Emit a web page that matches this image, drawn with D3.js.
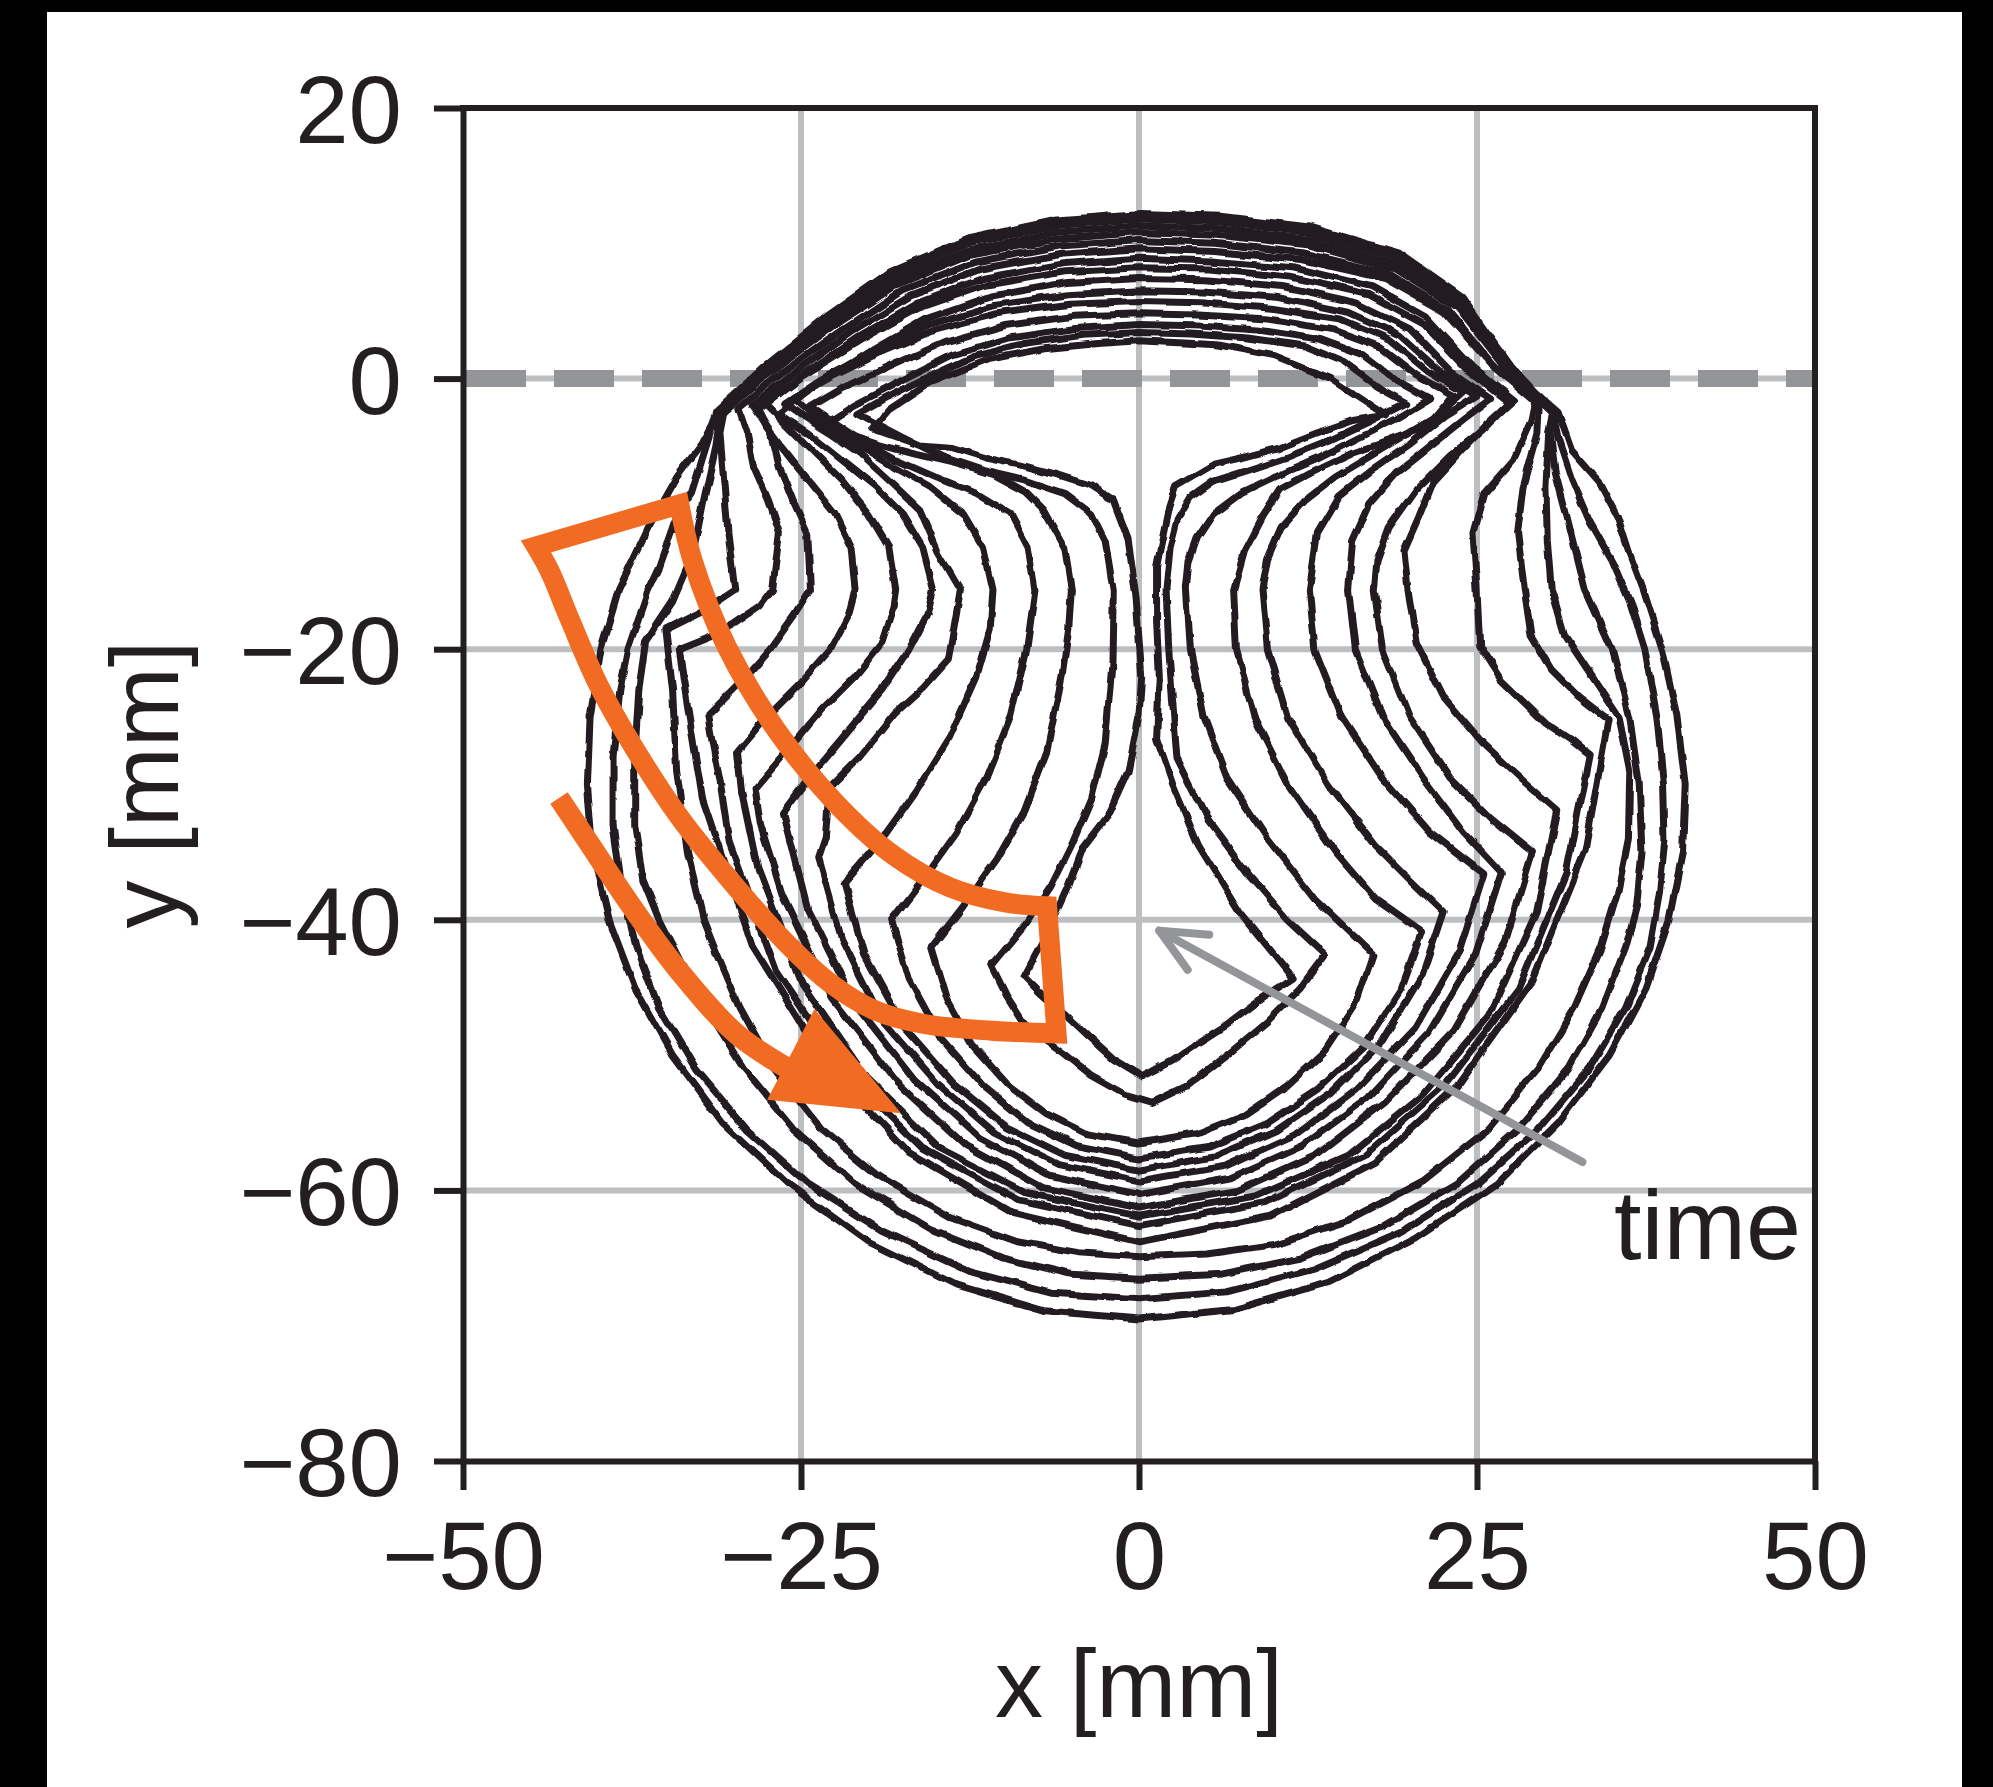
<!DOCTYPE html>
<html>
<head>
<meta charset="utf-8">
<script src="https://cdn.jsdelivr.net/npm/d3@7"></script>
<style>
  html, body { margin: 0; padding: 0; background: #ffffff; }
  svg { display: block; }
</style>
</head>
<body>
<svg id="chart" width="1993" height="1787">
  <defs>
    <!-- slight hand-traced roughness for the digitised fronts -->
    <filter id="traced" x="-5%" y="-5%" width="110%" height="110%">
      <feTurbulence type="fractalNoise" baseFrequency="0.04" numOctaves="2" seed="7" result="n"/>
      <feDisplacementMap in="SourceGraphic" in2="n" scale="6" xChannelSelector="R" yChannelSelector="G"/>
    </filter>
  </defs>
</svg>
<script>
// ---- axis settings -------------------------------------------------------
const xTicks = [-50, -25, 0, 25, 50];
const yTicks = [20, 0, -20, -40, -60, -80];
const xGrid = [-25, 0, 25];
const yGrid = [0, -20, -40, -60];
const xDomain = [-50, 50];
const yDomain = [-80, 20];
const xTitle = "x [mm]";
const yTitle = "y [mm]";
const timeLabel = "time";

// ---- front contours, x/y in mm, innermost first ---------------------------
const front01 = [[-19.7,-3.7],[-18.5,-2.3],[-15.5,-0.3],[-11.2,1.4],[-7,2.2],[-3,2.6],[0,2.8],[5.8,2.5],[10,1.7],[14.2,0],[18.3,-2.7],
  [15.8,-3.1],[13.2,-4.0],[10.4,-5.1],[7.8,-5.8],[5.6,-6.3],[2.7,-8.0],[2.2,-9.5],[1.8,-11.4],[1.3,-13.9],[1.3,-18],[1.5,-22],[1.3,-26.6],
  [2.5,-30],[4.4,-34.5],[7.5,-39.5],[11.4,-44.3],
  [8.8,-46],[6.4,-47.8],[4.2,-49.2],[2.5,-50.4],[0.2,-51.6],
  [-1.8,-50.4],[-3.8,-48.6],[-5.5,-47],[-7.2,-45.5],[-8.5,-44.2],
  [-6.8,-41],[-5.2,-37.5],[-4.1,-34.6],[-2.2,-32.1],[-0.8,-29],[0,-25],[0.2,-22],
  [-0.2,-16.4],[-0.8,-11.9],[-1.9,-9.0],[-3.6,-7.9],[-6.1,-7.1],[-8.7,-6.4],[-11.2,-5.9],[-13.8,-5.1],[-16.3,-4.9]];

const front02 = [[-20.8,-2.6],[-18.7,-1.4],[-15.4,0.2],[-12.3,1.6],[-8.5,2.6],[-4.2,3.2],[0,3.4],[3.8,3.3],[8.1,3.0],[12.3,2.4],[15.2,1.2],[17.6,-0.6],[19.8,-1.8],
  [17,-3.2],[14,-4.6],[11,-5.8],[8,-6.8],[5.5,-7.6],[3.8,-8.8],[2.8,-10.5],[2.3,-12.5],[2,-15.5],
  [2.2,-20],[2.5,-24],[2.8,-28],[5,-32.5],[8,-36.5],[11,-40],[13.8,-42.6],
  [12,-45],[9.5,-47.5],[6.5,-50],[3.5,-52.3],[1,-53.5],
  [-1,-52.9],[-3.5,-51.5],[-5.5,-49.9],[-8.4,-47.8],[-9.8,-45.6],[-10.9,-43.4],
  [-8.5,-40.5],[-6.5,-37.5],[-5,-34.5],[-3.5,-31],[-2.5,-27],[-2,-21],[-1.9,-15.6],
  [-2.5,-12],[-3.5,-10],[-5.5,-8.5],[-8.5,-7.5],[-11.5,-6.8],[-14.5,-5.8],[-17.5,-4.3]];

const front03 = [[-23.4,-3.5],[-21.1,-2.0],[-17.3,0.0],[-13.8,1.75],[-9.6,3.0],[-4.7,3.7],[0,4.0],[4.1,3.9],[8.8,3.6],[13.3,2.9],[16.6,1.7],[19.1,-0.2],[21.5,-1.5],
  [19,-3],[16,-4.5],[13,-6],[10,-7.3],[7.5,-8.5],[5.5,-10],[4.3,-11.8],[3.7,-13.5],[3.5,-15.5],
  [3.8,-20],[4.8,-25],[6.5,-29.5],[9.5,-34],[13,-38.5],[17.3,-42.6],
  [16.1,-46.1],[13.8,-49.6],[10.9,-52.3],[7.8,-54.4],[4.3,-55.8],[0,-56.5],
  [-3.9,-55.8],[-6.9,-54.3],[-9.7,-52.2],[-12.3,-49.3],[-14.3,-45.7],[-15.4,-42.1],
  [-13,-39],[-10.5,-35.5],[-8.5,-32],[-6.8,-27.5],[-5.7,-22],[-5.2,-18.5],[-5,-15.6],
  [-5.5,-12.5],[-7,-9.8],[-8.4,-8.4],[-10.8,-7.1],[-13.5,-6.3],[-16.5,-5.6],[-19.5,-4.8]];

const front04 = [[-24.3,-2.1],[-21.9,-0.7],[-18,1.1],[-14.3,2.7],[-10,3.9],[-4.9,4.6],[0,4.8],[4.4,4.7],[9.5,4.4],[14.4,3.6],[17.9,2.3],[20.6,0.2],[23.2,-1.2],
  [21.2,-3.6],[18.5,-4.6],[15.8,-5.5],[12.6,-7.0],[10.4,-8.2],[9.1,-10.2],[7.8,-12.7],[7,-15.6],
  [7.2,-20],[8.5,-25],[11,-30],[14.5,-35],[17.5,-38.5],[20.9,-40.9],
  [19.4,-45.1],[16.7,-49.3],[13.2,-52.6],[9.4,-55.1],[5.2,-56.8],[0,-57.6],
  [-4.6,-56.7],[-8.2,-55],[-11.5,-52.3],[-14.6,-48.8],[-17,-44.4],[-18.3,-40],
  [-16,-37],[-13.5,-33.5],[-11.3,-29.5],[-9.5,-25],[-8.3,-20],[-7.7,-15.6],
  [-8.2,-12.5],[-9.5,-10],[-12,-8.5],[-15,-7.3],[-18,-6],[-21,-4.3]];

const front05 = [[-25.6,-1.4],[-23,0.0],[-18.9,2.0],[-15.1,3.6],[-10.5,4.8],[-5.1,5.5],[0,5.7],[4.6,5.6],[9.8,5.2],[14.9,4.4],[18.5,2.9],[21.4,0.5],[24,-1.0],
  [22,-2.8],[19.5,-4.3],[17,-5.8],[14.5,-7.3],[12.3,-9],[10.5,-11],[9.5,-13.3],[9.1,-15.6],
  [9.5,-20],[11,-25],[14,-30],[17.5,-34.5],[20,-37],[22.5,-39.4],
  [20.9,-44.2],[18,-49],[14.2,-52.8],[10.1,-55.6],[5.6,-57.5],[0,-58.5],
  [-5.5,-57.4],[-9.8,-55.3],[-13.7,-52.1],[-17.4,-47.9],[-20.3,-42.6],[-21.8,-37.3],
  [-19,-34],[-16.5,-30.5],[-14,-26.5],[-12,-22],[-11,-18.5],[-10.8,-15.6],
  [-11.5,-12.5],[-13,-10],[-15.5,-8],[-18.5,-6.3],[-21.5,-4.5],[-24,-2.8]];

const front06 = [[-26.2,-1.8],[-23.6,-0.1],[-19.4,2.1],[-15.5,4.0],[-10.7,5.4],[-5.2,6.2],[0,6.5],[4.8,6.4],[10.3,6.0],[15.5,4.9],[19.3,3.2],[22.3,0.5],[25,-1.3],
  [22.6,-2.8],[20.1,-4.8],[17.2,-6.8],[14.8,-8.7],[13.2,-11.4],[12.6,-15.6],
  [13,-20],[15,-25],[18,-29.5],[21.5,-33.5],[25.5,-36.6],
  [23.7,-42.3],[20.4,-48],[16.1,-52.5],[11.5,-55.9],[6.4,-58.2],[0,-59.3],
  [-5.9,-58.1],[-10.7,-55.7],[-14.9,-52.1],[-19,-47.4],[-22,-41.4],[-23.7,-35.4],
  [-23.2,-33.9],[-22.9,-30.2],[-20.7,-28],[-18,-24.7],[-15.9,-22.8],[-14.1,-20.8],[-13.5,-17.3],[-13.2,-15.6],
  [-14.9,-12.7],[-16.2,-9.7],[-18.3,-7.7],[-20.7,-5.5],[-22.9,-4.0],[-24.8,-2.8]];

const front07 = [[-26.7,-2.6],[-24,-0.6],[-19.8,2.1],[-15.8,4.4],[-10.9,6.1],[-5.3,7.1],[0,7.4],[4.9,7.3],[10.7,6.8],[16.1,5.6],[20,3.7],[23.1,0.5],[26,-1.5],
  [24,-3],[21.5,-5],[19,-7],[17,-9.3],[15.8,-12],[15.5,-15.6],
  [16,-20],[18,-25],[21,-29.5],[24,-33.5],[26.8,-36.5],
  [24.9,-42.5],[21.4,-48.4],[16.9,-53.2],[12.1,-56.7],[6.7,-59.1],[0,-60.3],
  [-6.6,-58.9],[-11.8,-56.1],[-16.6,-51.8],[-21,-46.2],[-24.5,-39.2],[-26.3,-32.1],
  [-24,-29],[-21.5,-26],[-19,-23],[-17,-20],[-15.7,-17.5],[-15.2,-15.6],
  [-16,-12.5],[-17.5,-10],[-19.5,-8],[-22,-6],[-24.5,-4]];

const front08 = [[-27.7,-1.8],[-24.9,0.2],[-20.5,2.9],[-16.3,5.2],[-11.4,6.9],[-5.5,7.9],[0,8.2],[5.2,8.1],[11.2,7.5],[17,6.2],[21.1,4.0],[24.4,0.5],[27.4,-1.8],
  [25.5,-3.7],[23,-5.7],[20.5,-8.2],[18.5,-11],[17.6,-13.5],[17.4,-15.6],
  [18,-20],[20,-25],[23,-29.5],[26,-32.5],[29.1,-35],
  [27.1,-41.6],[23.3,-48.2],[18.3,-53.4],[13.1,-57.4],[7.3,-60],[0,-61.3],
  [-7.1,-59.8],[-12.8,-56.7],[-17.9,-52],[-22.7,-45.8],[-26.4,-38.1],[-28,-33],[-28.4,-30.3],
  [-26,-27.5],[-23.5,-24.5],[-21,-22],[-19,-19.5],[-18.2,-17],[-18,-15.6],
  [-18.5,-12.5],[-20,-10],[-22,-7.5],[-24.5,-5],[-26.3,-3.2]];

const front09 = [[-28.2,-2.3],[-25.4,-0.1],[-20.9,3.0],[-16.6,5.5],[-11.6,7.4],[-5.6,8.5],[0,8.9],[5.3,8.7],[11.4,8.2],[17.2,6.8],[21.3,4.5],[24.7,0.8],[27.7,-1.6],
  [26,-3.1],[23.9,-5.3],[21.7,-7.7],[20.7,-10.2],[19.6,-12.7],[19.9,-15.6],
  [20.5,-19.5],[22.5,-23.5],[25.5,-27],[28.5,-29.8],[30.9,-31.9],
  [29.4,-39.4],[26,-46.9],[21,-52.9],[15.5,-57.4],[8.7,-60.4],[0,-61.9],
  [-8.3,-60.2],[-14.9,-56.8],[-20.2,-51.6],[-24.9,-44.8],[-28.2,-36.2],[-29.4,-30.5],[-29.7,-27.6],
  [-27.5,-25],[-25,-22.5],[-22.8,-20],[-21.5,-17.5],[-21,-15.6],
  [-21.3,-12.5],[-22.5,-10],[-24.5,-7.5],[-26.5,-5],[-27.6,-3.5]];

const front10 = [[-28.6,-2],[-25.7,0.3],[-21.2,3.5],[-16.9,6.1],[-11.7,8.1],[-5.7,9.2],[0,9.6],[5.6,9.4],[12,8.8],[18.2,7.4],[22.6,4.9],[26.1,1.0],[29.3,-1.6],
  [29,-3.1],[27.7,-6],[25.5,-8.5],[24.7,-11.4],[25,-15.6],
  [25.2,-19.8],[26.8,-22.3],[30.1,-25.5],[31.9,-26.7],[33.3,-27.8],
  [31.6,-36.5],[28,-45.2],[22.6,-52.2],[16.7,-57.4],[9.3,-60.9],[0,-62.6],
  [-8.9,-60.7],[-16,-56.9],[-21.7,-51.3],[-26.8,-43.8],[-30.3,-34.3],[-31,-29.7],[-31.5,-27.2],[-31.9,-24.9],
  [-29.5,-22.5],[-27.3,-20],[-25.5,-17.5],[-24.3,-15.6],
  [-24.5,-11.4],[-25.6,-9],[-26.6,-6.5],[-27.2,-4]];

const front11 = [[-29.6,-2.2],[-26.6,0.3],[-21.9,3.6],[-17.5,6.5],[-12.1,8.6],[-5.9,9.8],[0,10.2],[5.6,10.0],[12.1,9.3],[18.4,7.8],[22.8,5.1],[26.3,0.8],[29.6,-2],
  [29.5,-4],[28.4,-8],[28,-11.4],[28.5,-15.6],
  [29,-19],[30.5,-21.5],[32.5,-23.5],[34.7,-25.2],
  [33,-34.9],[29.1,-44.5],[23.6,-52.2],[17.4,-58],[9.7,-61.9],[0,-63.8],
  [-9.5,-61.6],[-17,-57.2],[-23.1,-50.7],[-28.6,-41.9],[-32.3,-31],[-33.7,-22.3],[-34,-20],
  [-31.5,-19],[-29.9,-18.1],[-28,-16.8],[-27.1,-15.6],
  [-26.6,-11.4],[-27.4,-9],[-28.5,-6.5],[-29,-4]];

const front12 = [[-30.7,-2.5],[-27.6,0.2],[-22.7,3.8],[-18.1,6.8],[-12.6,9.1],[-6.1,10.3],[0,10.8],[5.8,10.6],[12.5,9.9],[19,8.1],[23.6,5.2],[27.2,0.6],[30.6,-2.5],
  [30.3,-4],[30.1,-8],[30.2,-12],[30.5,-15.6],[31.5,-19],[33.5,-22],[35.5,-25],[36.3,-29],[36.2,-34],[35.4,-38],[34.2,-42],[32.2,-46.5],[29.5,-51],[25.8,-55.5],[21,-59.3],[15.5,-62.2],[10,-64],[5,-64.7],[0,-64.9],
  [-4.5,-64.6],[-9,-63.8],[-14,-62],[-19.2,-59],[-23.5,-55.5],[-27,-51],[-29.5,-46.5],[-31.2,-42.5],[-32.2,-40],[-33.4,-35],[-34.2,-29],[-34.5,-23],[-35,-18.5],
  [-32,-17],[-29.9,-15.6],[-30.4,-11.4],[-30.7,-7.7],[-31,-4]];

const front13 = [[-30.9,-2.4],[-27.8,0.3],[-22.9,4.0],[-18.2,7.2],[-12.7,9.5],[-6.2,10.8],[0,11.3],[5.8,11.1],[12.5,10.3],[19,8.5],[23.6,5.5],[27.2,0.7],[30.6,-2.5],
  [30.4,-4],[30.8,-7],[31.6,-10],[33,-15.6],[35,-20],[36.3,-25],[37,-30],[37.2,-35],[36.8,-39],[36,-42],[34.3,-46.5],[31.8,-51],[28,-55.5],[23.5,-59.5],[18,-62.7],[12,-65],[6,-66.2],[0,-66.5],
  [-5,-66.2],[-10,-65],[-15.5,-62.8],[-21,-59.5],[-25.5,-55.5],[-29.2,-51],[-32,-46.5],[-34,-43],[-35.5,-40],[-36.7,-37],[-37.3,-33],[-37.3,-28],[-37,-23],[-36.5,-19.5],[-34.5,-16.5],[-33,-13],[-32.2,-9],[-31.3,-5]];

const front14 = [[-31.2,-2.3],[-28.1,0.5],[-23.1,4.3],[-18.4,7.6],[-12.8,10.0],[-6.2,11.3],[0,11.8],[5.8,11.6],[12.5,10.8],[19,9.0],[23.6,5.8],[27.2,0.8],[30.6,-2.5],
  [31,-4.5],[32,-7.5],[33.3,-10.5],[35,-13.5],[36.3,-16.5],[37.4,-20],[38.3,-25],[38.8,-30],[38.9,-34],[38.5,-38],[37.8,-42],[36,-46.5],[33.3,-51],[29.5,-55.5],[25,-59.5],[19.5,-63],[13,-65.8],[6.5,-67.5],[0,-68],
  [-6.5,-67.6],[-12.5,-66],[-19,-63],[-24.5,-59.5],[-29,-55.5],[-32.8,-51],[-35.5,-46.5],[-37.2,-42],[-38.2,-38],[-38.9,-33],[-38.9,-28],[-38.4,-23],[-37.8,-20],[-36.3,-15.6],[-35.5,-13.9],[-34.2,-10.2],[-33.1,-8.5],[-31.7,-4]];

const front15 = [[-31.2,-2.8],[-30.2,-1.5],[-27.8,0.8],[-23.1,4.6],[-18.4,7.9],[-12.8,10.3],[-6.2,11.7],[0.1,12.2],[6,12],[12.6,11.2],[19.2,9.3],[23.9,6],[27.6,0.8],[29.3,-1],[31,-2.5],
  [32,-5.3],[34.1,-7.7],[35.4,-10.2],[36.2,-12.7],[37.3,-15.6],[38.7,-20],[39.8,-25],[40.4,-30],[40.2,-35],[39.2,-40],[37.5,-45],[34.8,-50],[31,-55],[26.5,-59.5],[20.5,-63.5],[14,-66.8],[7,-68.8],[0,-69.5],
  [-7,-68.9],[-13.5,-67],[-20,-63.8],[-26,-59.5],[-30.8,-55],[-34.5,-50],[-37.3,-45],[-39.2,-40],[-40.4,-35],[-40.8,-30],[-40.6,-25],[-39.8,-20],[-38.5,-15.6],[-36.3,-11],[-34.2,-7.3],[-32.3,-4.8]];

const fronts = [front01, front02, front03, front04, front05, front06, front07, front08,
                front09, front10, front11, front12, front13, front14, front15];

// ---- annotation shapes (mm) ------------------------------------------------
const bandInnerEdge = [[-34,-9.3],[-33,-13.5],[-30.5,-19.8],[-26.8,-26],[-22.5,-31.3],[-18.2,-35.2],[-14,-37.6],[-10,-38.7],[-6.8,-39]];
const bandOuterEdge = [[-6.1,-48.4],[-10.9,-48.2],[-15.9,-47.7],[-19.5,-46.7],[-22.8,-44.7],[-26.2,-41.6],[-30.3,-37],[-34,-32.4],[-37.4,-27.2],[-40,-22.6],[-42.1,-17.8],[-43.6,-14.2],[-44.6,-12.4]];
const arrowShaft = [[-42.9,-31],[-40.7,-34.3],[-37.4,-39.2],[-34,-43.8],[-29.7,-48.5],[-25.6,-51.2]];
const arrowHead = [[-24,-46.6],[-17.6,-54.3],[-27.5,-53.3]];
const timeArrowLine = [[32.8,-57.9],[1.5,-40.8]];
const timeArrowHead = [[5.2,-41.1],[1.5,-40.8],[3.6,-43.7]];

// ---- layout ------------------------------------------------------------------
const INK = "#231f20";
const ORANGE = "#f26b22";
const GRID = "#bcbec0";
const MIDGRAY = "#939598";
const FONT = "'Liberation Sans', Arial, Helvetica, sans-serif";

const svg = d3.select("#chart");
const x = d3.scaleLinear().domain(xDomain).range([463, 1815]);
const y = d3.scaleLinear().domain(yDomain).range([1461, 108]);

svg.append("rect").attr("width", 1993).attr("height", 1787).attr("fill", "#ffffff");

// dark page margins
svg.append("rect").attr("x", 0).attr("y", 0).attr("width", 47).attr("height", 1787).attr("fill", "#000");
svg.append("rect").attr("x", 0).attr("y", 0).attr("width", 1993).attr("height", 12).attr("fill", "#000");
svg.append("rect").attr("x", 1962).attr("y", 0).attr("width", 31).attr("height", 1787).attr("fill", "#000");

// grid
const grid = svg.append("g").attr("stroke", GRID).attr("stroke-width", 6);
grid.selectAll("line.v").data(xGrid).join("line")
  .attr("x1", d => x(d)).attr("x2", d => x(d)).attr("y1", y(20)).attr("y2", y(-80));
grid.selectAll("line.h").data(yGrid).join("line")
  .attr("x1", x(-50)).attr("x2", x(50)).attr("y1", d => y(d)).attr("y2", d => y(d));

// dashed zero level
svg.append("line")
  .attr("x1", x(-50) + 3).attr("x2", x(50)).attr("y1", y(0)).attr("y2", y(0))
  .attr("stroke", MIDGRAY).attr("stroke-width", 17).attr("stroke-dasharray", "60 28");

// fronts
const frontLine = d3.line().x(d => x(d[0])).y(d => y(d[1])).curve(d3.curveLinearClosed);
svg.append("g").attr("filter", "url(#traced)")
  .selectAll("path").data(fronts).join("path")
  .attr("d", frontLine)
  .attr("fill", "none").attr("stroke", INK).attr("stroke-width", 7)
  .attr("stroke-linejoin", "round");

// orange annotations
const smooth = d3.line().x(d => x(d[0])).y(d => y(d[1])).curve(d3.curveCatmullRom.alpha(0.5));
const bandPath = smooth(bandInnerEdge) + smooth(bandOuterEdge).replace(/^M/, "L") + "Z";
svg.append("path").attr("d", bandPath)
  .attr("fill", "none").attr("stroke", ORANGE).attr("stroke-width", 20).attr("stroke-linejoin", "miter");
svg.append("path").attr("d", smooth(arrowShaft))
  .attr("fill", "none").attr("stroke", ORANGE).attr("stroke-width", 21);
svg.append("path").attr("d", d3.line().x(d => x(d[0])).y(d => y(d[1])).curve(d3.curveLinearClosed)(arrowHead))
  .attr("fill", ORANGE);

// time arrow
const straight = d3.line().x(d => x(d[0])).y(d => y(d[1]));
svg.append("path").attr("d", straight(timeArrowLine))
  .attr("fill", "none").attr("stroke", MIDGRAY).attr("stroke-width", 8).attr("stroke-linecap", "round");
svg.append("path").attr("d", straight(timeArrowHead))
  .attr("fill", "none").attr("stroke", MIDGRAY).attr("stroke-width", 8)
  .attr("stroke-linecap", "round").attr("stroke-linejoin", "round");
svg.append("text").attr("x", 1614).attr("y", 1259)
  .attr("font-family", FONT).attr("font-size", 99).attr("fill", INK).text(timeLabel);

// axes
const fmt = d => d < 0 ? "\u2212" + Math.abs(d) : String(d);
const ax = svg.append("g").attr("transform", `translate(0,${y(-80)})`)
  .call(d3.axisBottom(x).tickValues(xTicks).tickFormat(fmt).tickSize(29).tickSizeOuter(0).tickPadding(30));
const ay = svg.append("g").attr("transform", `translate(${x(-50)},0)`)
  .call(d3.axisLeft(y).tickValues(yTicks).tickFormat(fmt).tickSize(29).tickSizeOuter(0).tickPadding(32));
[ax, ay].forEach(g => {
  g.select(".domain").attr("stroke", INK).attr("stroke-width", 6);
  g.selectAll(".tick line").attr("stroke", INK).attr("stroke-width", 6);
  g.selectAll(".tick text").attr("fill", INK).attr("font-family", FONT).attr("font-size", 96);
});
ay.selectAll(".tick text").attr("dy", "0.36em");
ax.selectAll(".tick text").attr("dy", "0.72em");

// box top and right
svg.append("path")
  .attr("d", `M${x(-50)},${y(20)}H${x(50)}V${y(-80)}`)
  .attr("fill", "none").attr("stroke", INK).attr("stroke-width", 6)
  .attr("stroke-linejoin", "miter").attr("stroke-linecap", "square");

// axis titles
svg.append("text").attr("x", x(0)).attr("y", 1717).attr("text-anchor", "middle")
  .attr("font-family", FONT).attr("font-size", 96).attr("fill", INK).text(xTitle);
svg.append("text").attr("transform", `translate(178,${y(-30)}) rotate(-90)`).attr("text-anchor", "middle")
  .attr("font-family", FONT).attr("font-size", 96).attr("fill", INK).text(yTitle);
</script>
</body>
</html>
